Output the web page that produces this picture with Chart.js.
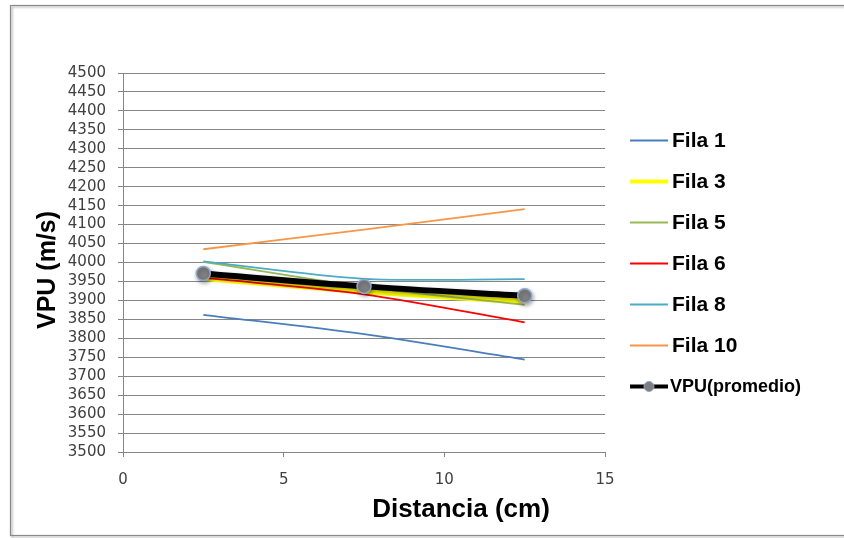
<!DOCTYPE html>
<html>
<head>
<meta charset="utf-8">
<script src="https://cdn.jsdelivr.net/npm/chart.js@4/dist/chart.umd.min.js"></script>
<style>
  html, body { margin: 0; padding: 0; background: #ffffff; }
  #wrap { width: 844px; height: 538px; }
</style>
</head>
<body>
<div id="wrap"><canvas id="vpuChart" width="844" height="538"></canvas></div>
<script>
// distance along the sample (cm) and pulse velocity per row (m/s)
const distances = [2.5, 7.5, 12.5];
const fila1 = [3862, 3811, 3744];
const fila3 = [3960, 3925, 3898];
const fila5 = [4002, 3936, 3888];
const fila6 = [3960, 3916, 3842];
const fila8 = [4003, 3957, 3956];
const fila10 = [4035, 4087, 4141];
const promedio = [3971, 3937, 3912];

const seriesNames = ["Fila 1", "Fila 3", "Fila 5", "Fila 6", "Fila 8", "Fila 10", "VPU(promedio)"];
const seriesValues = [fila1, fila3, fila5, fila6, fila8, fila10, promedio];
const seriesColors = ["#4a7ebb", "#ffff00", "#98b954", "#ff0000", "#4bacc6", "#f79646", "#000000"];
const seriesWidths = [1.8, 6.5, 1.8, 1.8, 1.8, 1.8, 6];

const xTicks = [0, 5, 10, 15];

function toPoints(values) {
    return distances.map(function (d, i) { return { x: d, y: values[i] }; });
}

var datasets = seriesNames.map(function (name, i) {
    var isAvg = i === seriesNames.length - 1;
    return {
        label: name,
        data: toPoints(seriesValues[i]),
        borderColor: seriesColors[i],
        backgroundColor: seriesColors[i],
        borderWidth: seriesWidths[i],
        tension: 0.3,
        pointRadius: isAvg ? 7 : 0,
        pointHoverRadius: isAvg ? 7 : 0,
        pointBackgroundColor: "#7f7f7f",
        pointBorderColor: "#8ea6cf",
        pointBorderWidth: 1.5,
        // later series sit on top, like the spreadsheet
        order: seriesNames.length - i
    };
});

// white page with the grey frame around the whole chart
const framePlugin = {
    id: "frame",
    beforeDraw: function (chart) {
        const ctx = chart.ctx;
        ctx.save();
        ctx.fillStyle = "#ffffff";
        ctx.fillRect(0, 0, chart.width, chart.height);
        ctx.shadowColor = "rgba(0,0,0,0.35)";
        ctx.shadowOffsetX = 1.5;
        ctx.shadowOffsetY = 1.5;
        ctx.shadowBlur = 2;
        ctx.strokeStyle = "#8a8a8a";
        ctx.lineWidth = 1.2;
        ctx.strokeRect(10.5, 5.5, 900, 530);
        ctx.restore();
    }
};

// soft shadow under the average line and its markers
const shadowPlugin = {
    id: "avgShadow",
    beforeDatasetDraw: function (chart, args) {
        if (args.index !== seriesNames.length - 1) return;
        const ctx = chart.ctx;
        ctx.save();
        ctx.shadowColor = "rgba(0,0,0,0.35)";
        ctx.shadowBlur = 4;
        ctx.shadowOffsetX = 1;
        ctx.shadowOffsetY = 2;
    },
    afterDatasetDraw: function (chart, args) {
        if (args.index !== seriesNames.length - 1) return;
        chart.ctx.restore();
    }
};

// axis titles and the legend on the right
const labelsPlugin = {
    id: "labels",
    afterDraw: function (chart) {
        const ctx = chart.ctx;
        ctx.save();
        ctx.fillStyle = "#000000";
        ctx.textAlign = "center";
        ctx.textBaseline = "alphabetic";
        ctx.font = "bold 26px 'Liberation Sans', Arial, sans-serif";
        ctx.fillText("Distancia (cm)", 461, 517);

        ctx.translate(55, 270);
        ctx.rotate(-Math.PI / 2);
        ctx.font = "bold 25px 'Liberation Sans', Arial, sans-serif";
        ctx.fillText("VPU (m/s)", 0, 0);
        ctx.restore();

        ctx.save();
        chart.data.datasets.forEach(function (ds, i) {
            const y = 140.5 + i * 41;
            const isAvg = i === chart.data.datasets.length - 1;
            ctx.strokeStyle = ds.borderColor;
            ctx.lineWidth = Math.min(ds.borderWidth, 4);
            ctx.beginPath();
            ctx.moveTo(630, y);
            ctx.lineTo(668, y);
            ctx.stroke();
            if (isAvg) {
                ctx.beginPath();
                ctx.arc(649, y, 5, 0, Math.PI * 2);
                ctx.fillStyle = ds.pointBackgroundColor;
                ctx.fill();
                ctx.lineWidth = 1;
                ctx.strokeStyle = ds.pointBorderColor;
                ctx.stroke();
            }
            ctx.fillStyle = "#000000";
            ctx.textAlign = "left";
            ctx.textBaseline = "middle";
            ctx.font = isAvg ? "bold 18px 'Liberation Sans', Arial, sans-serif"
                             : "bold 21px 'Liberation Sans', Arial, sans-serif";
            ctx.fillText(ds.label, isAvg ? 670 : 672, y + 1);
        });
        ctx.restore();
    }
};

var ctx = document.getElementById("vpuChart").getContext("2d");
var vpuChart = new Chart(ctx, {
    type: "line",
    data: { datasets: datasets },
    options: {
        responsive: false,
        animation: false,
        events: [],
        layout: { padding: { top: 73, right: 239, left: 0, bottom: 0 } },
        plugins: {
            legend: { display: false },
            tooltip: { enabled: false }
        },
        scales: {
            x: {
                type: "linear",
                min: 0,
                max: 15,
                afterBuildTicks: function (axis) {
                    axis.ticks = xTicks.map(function (v) { return { value: v }; });
                },
                afterFit: function (axis) { axis.height = 86; },
                grid: {
                    drawOnChartArea: false,
                    drawTicks: true,
                    tickLength: 5,
                    color: "#868686"
                },
                border: { display: true, color: "#868686", width: 1 },
                ticks: {
                    padding: 14,
                    color: "#404040",
                    font: { family: "'DejaVu Sans', sans-serif", size: 15 },
                    maxRotation: 0,
                    callback: function (value) { return String(value); }
                }
            },
            y: {
                min: 3500,
                max: 4500,
                afterFit: function (axis) { axis.width = 123; },
                grid: {
                    color: "#868686",
                    lineWidth: 1,
                    tickLength: 5
                },
                border: { display: true, color: "#868686", width: 1 },
                ticks: {
                    stepSize: 50,
                    autoSkip: false,
                    padding: 12,
                    color: "#404040",
                    font: { family: "'DejaVu Sans', sans-serif", size: 15 },
                    callback: function (value) { return String(value); }
                }
            }
        }
    },
    plugins: [framePlugin, shadowPlugin, labelsPlugin]
});
</script>
</body>
</html>
